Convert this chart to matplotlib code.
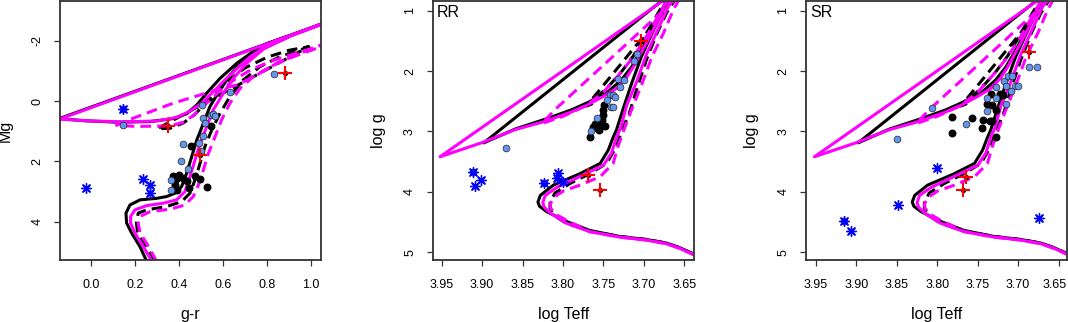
import numpy as np
import matplotlib
matplotlib.use("Agg")
import matplotlib.pyplot as plt
import matplotlib.transforms as mtransforms

plt.rcParams['font.family'] = ['Liberation Sans', 'DejaVu Sans']
plt.rcParams['axes.unicode_minus'] = False

# ---- isochrones, colour-magnitude plane (g-r, Mg) ----
cmd_bs_x = [0.252, 0.222, 0.184, 0.161, 0.158, 0.176, 0.222, 0.297, 0.343, 0.381, 0.411, 0.434, 0.457, 0.480,
            0.510, 0.540, 0.586, 0.631, 0.692, 0.768, 0.90, 1.15,
            -0.145, -0.036, 0.115, 0.267, 0.373, 0.434, 0.480, 0.525, 0.586, 0.662, 0.737, 0.80, 0.90]
cmd_bs_y = [5.30, 4.82, 4.37, 4.04, 3.71, 3.44, 3.27, 3.22, 3.16, 3.05, 2.83, 2.39, 1.84, 1.29,
            0.74, 0.18, -0.37, -0.86, -1.36, -1.78, -2.15, -2.82,
            0.58, 0.65, 0.70, 0.68, 0.58, 0.42, 0.13, -0.26, -0.75, -1.25, -1.64, -1.90, -2.15]

cmd_ms_x = [0.275, 0.237, 0.199, 0.179, 0.179, 0.199, 0.252, 0.328, 0.388, 0.426, 0.449, 0.472, 0.495, 0.525,
            0.555, 0.601, 0.646, 0.707, 0.783, 0.90, 1.15,
            -0.145, 0.0, 0.15, 0.30, 0.39, 0.45, 0.50, 0.55, 0.60, 0.66, 0.72, 0.78, 0.90]
cmd_ms_y = [5.30, 4.82, 4.37, 4.04, 3.82, 3.60, 3.46, 3.38, 3.27, 3.00, 2.50, 1.95, 1.40, 0.85,
            0.29, -0.26, -0.75, -1.25, -1.72, -2.13, -2.82,
            0.60, 0.66, 0.69, 0.66, 0.54, 0.33, 0.08, -0.27, -0.64, -1.06, -1.45, -1.75, -2.13]

cmd_bd_x = [0.290, 0.262, 0.230, 0.210, 0.205, 0.214, 0.252, 0.343, 0.411, 0.449, 0.472, 0.495, 0.517, 0.548,
            0.586, 0.631, 0.692, 0.768, 0.859, 0.950, 0.99,
            0.30, 0.36, 0.42, 0.47, 0.52, 0.57, 0.63, 0.70, 0.80, 0.90, 0.99]
cmd_bd_y = [5.30, 4.95, 4.60, 4.30, 4.00, 3.71, 3.60, 3.49, 3.33, 3.05, 2.61, 2.06, 1.51, 0.96,
            0.40, -0.15, -0.70, -1.14, -1.47, -1.69, -1.80,
            0.92, 0.90, 0.72, 0.45, 0.08, -0.30, -0.72, -1.10, -1.45, -1.68, -1.80]

cmd_md_x = [0.297, 0.252, 0.222, 0.214, 0.222, 0.267, 0.358, 0.426, 0.464, 0.487, 0.510, 0.533, 0.563, 0.593,
            0.631, 0.677, 0.737, 0.829, 0.920, 1.046, 1.10,
            1.046, 0.950, 0.844, 0.753, 0.662, 0.571, 0.373, 0.19, 0.115,
            0.20, 0.30, 0.36, 0.42, 0.47, 0.52, 0.58, 0.65, 0.73, 0.83, 0.95, 1.046]
cmd_md_y = [5.30, 4.71, 4.37, 4.04, 3.82, 3.66, 3.58, 3.44, 3.16, 2.78, 2.28, 1.73, 1.18, 0.62,
            0.07, -0.42, -0.81, -1.19, -1.47, -1.80, -1.95,
            -1.86, -1.58, -1.25, -0.86, -0.53, -0.37, 0.07, 0.57, 0.80,
            0.84, 0.83, 0.82, 0.70, 0.45, 0.10, -0.30, -0.70, -1.05, -1.35, -1.62, -1.83]

# ---- isochrones, Kiel plane (log Teff, log g) ----
hr_bs_t = [3.637, 3.655, 3.672, 3.697, 3.730, 3.767, 3.796, 3.820, 3.829, 3.831, 3.828, 3.812, 3.779, 3.754,
           3.744, 3.738, 3.734, 3.725, 3.715, 3.703, 3.690, 3.678, 3.666,
           3.898, 3.859, 3.818, 3.789, 3.769, 3.744, 3.728, 3.715, 3.703, 3.690, 3.678, 3.668]
hr_bs_g = [5.04, 4.93, 4.85, 4.79, 4.74, 4.64, 4.49, 4.33, 4.24, 4.17, 4.06, 3.89, 3.70, 3.53,
           3.31, 3.10, 2.98, 2.60, 2.20, 1.76, 1.38, 1.04, 0.71,
           3.19, 2.96, 2.78, 2.64, 2.52, 2.34, 2.15, 1.93, 1.65, 1.32, 0.99, 0.75]

hr_ms_t = [3.637, 3.655, 3.672, 3.697, 3.730, 3.767, 3.796, 3.815, 3.823, 3.825, 3.822, 3.808, 3.775, 3.750,
           3.740, 3.734, 3.729, 3.721, 3.709, 3.697, 3.684, 3.672, 3.664,
           3.952, 3.901, 3.859, 3.824, 3.790, 3.771, 3.750, 3.734, 3.722, 3.713, 3.697, 3.680, 3.670]
hr_ms_g = [5.05, 4.94, 4.86, 4.80, 4.75, 4.66, 4.52, 4.36, 4.26, 4.18, 4.06, 3.93, 3.72, 3.56,
           3.36, 3.10, 2.95, 2.56, 2.18, 1.73, 1.35, 1.00, 0.72,
           3.42, 3.19, 2.97, 2.84, 2.68, 2.57, 2.42, 2.29, 2.12, 1.93, 1.54, 1.10, 0.78]

hr_bd_t = [3.637, 3.655, 3.672, 3.697, 3.730, 3.767, 3.796, 3.810, 3.816, 3.816, 3.810, 3.791, 3.767, 3.746,
           3.734, 3.727, 3.718, 3.709, 3.697, 3.684, 3.672, 3.656,
           3.771, 3.765, 3.755, 3.740, 3.727, 3.713, 3.699, 3.685, 3.672]
hr_bd_g = [5.04, 4.93, 4.85, 4.79, 4.74, 4.65, 4.52, 4.40, 4.28, 4.18, 4.02, 3.86, 3.70, 3.53,
           3.25, 2.98, 2.70, 2.31, 1.82, 1.38, 1.04, 0.70,
           2.58, 2.55, 2.40, 2.20, 2.00, 1.75, 1.43, 1.10, 0.80]

hr_md_t = [3.637, 3.655, 3.672, 3.697, 3.730, 3.767, 3.796, 3.808, 3.815, 3.816, 3.812, 3.800, 3.779, 3.754,
           3.738, 3.732, 3.724, 3.714, 3.702, 3.690, 3.676, 3.664, 3.652,
           3.810, 3.826, 3.800, 3.771, 3.750, 3.730, 3.715, 3.700, 3.685, 3.670]
hr_md_g = [5.05, 4.94, 4.86, 4.80, 4.75, 4.66, 4.47, 4.38, 4.28, 4.21, 4.10, 3.99, 3.89, 3.75,
           3.53, 3.25, 2.95, 2.60, 2.20, 1.76, 1.38, 1.00, 0.70,
           2.64, 2.87, 2.75, 2.57, 2.35, 2.05, 1.80, 1.50, 1.15, 0.80]

# ---- stars, panel 1 ----
p1_blue_x = [0.146, 0.146, 0.505, 0.507, 0.518, 0.543, 0.552, 0.562, 0.510, 0.489, 0.419, 0.498, 0.407,
             0.439, 0.364, 0.361, 0.631, 0.833]
p1_blue_y = [0.27, 0.80, 0.13, 0.55, 0.74, 0.46, 0.44, 0.48, 1.16, 1.40, 1.43, 1.64, 1.97,
             2.24, 2.62, 2.94, -0.31, -0.90]
p1_black_x = [0.452, 0.545, 0.373, 0.401, 0.384, 0.419, 0.434, 0.472, 0.495, 0.446, 0.525, 0.381, 0.389, 0.392]
p1_black_y = [1.49, 0.81, 2.48, 2.46, 2.59, 2.56, 2.64, 2.47, 2.57, 2.89, 2.83, 2.78, 2.94, 2.55]
p1_star_x = [0.146, -0.024, 0.237, 0.267, 0.267]
p1_star_y = [0.27, 2.89, 2.59, 2.78, 3.03]
p1_red_x = [0.350, 0.495, 0.882]
p1_red_y = [0.82, 1.78, -0.94]

# ---- stars, panel 2 (RR) ----
p2_blue_t = [3.871, 3.708, 3.712, 3.732, 3.725, 3.729, 3.742, 3.738, 3.736, 3.745, 3.741, 3.738, 3.758, 3.765,
             3.911, 3.824]
p2_blue_g = [3.27, 1.72, 1.83, 2.14, 2.15, 2.27, 2.39, 2.40, 2.43, 2.48, 2.60, 2.59, 2.78, 2.99,
             3.67, 3.86]
p2_black_t = [3.767, 3.760, 3.754, 3.748, 3.758, 3.756, 3.752, 3.750, 3.751, 3.749, 3.756, 3.763]
p2_black_g = [3.09, 2.87, 2.90, 2.91, 2.95, 2.98, 2.81, 2.73, 2.65, 2.56, 2.84, 2.92]
p2_star_t = [3.911, 3.901, 3.909, 3.824, 3.806, 3.808, 3.800]
p2_star_g = [3.67, 3.80, 3.91, 3.86, 3.69, 3.78, 3.83]
p2_red_t = [3.704, 3.769, 3.754]
p2_red_g = [1.50, 3.73, 3.97]

# ---- stars, panel 3 (SR) ----
p3_blue_t = [3.806, 3.850, 3.765, 3.738, 3.738, 3.727, 3.727, 3.717, 3.715, 3.712, 3.708, 3.704, 3.700,
             3.709, 3.715, 3.687, 3.677, 3.916]
p3_blue_g = [2.62, 3.12, 2.87, 2.44, 2.66, 2.44, 2.27, 2.16, 2.24, 2.09, 2.09, 2.25, 2.25,
             2.33, 2.55, 1.94, 1.94, 4.48]
p3_black_t = [3.782, 3.782, 3.757, 3.744, 3.735, 3.732, 3.739, 3.732, 3.728, 3.745, 3.727, 3.733, 3.723, 3.719]
p3_black_g = [2.76, 3.03, 2.77, 2.81, 2.82, 2.82, 2.55, 2.56, 2.65, 2.95, 3.09, 2.38, 2.38, 2.39]
p3_star_t = [3.916, 3.907, 3.849, 3.800, 3.674]
p3_star_g = [4.48, 4.65, 4.22, 3.60, 4.44]
p3_red_t = [3.687, 3.764, 3.768]
p3_red_g = [1.69, 3.75, 3.97]

W, H = 1068, 322
fig = plt.figure(figsize=(W / 100, H / 100), dpi=100)

def make_axes(left, right):
    ax = fig.add_axes([left / W, 62 / H, (right - left) / W, 259 / H])
    for s in ax.spines.values():
        s.set_linewidth(1.3)
        s.set_color('#333333')
    ax.tick_params(direction='out', length=4.5, width=0.9, color='#333333', labelsize=9)
    ax.tick_params(axis='x', pad=9.5)
    ax.tick_params(axis='y', pad=7.5, labelrotation=90)
    return ax

def draw_iso(ax, curves):
    for x, y, c, ls in curves:
        line, = ax.plot(x, y, color=c, lw=2.2, solid_capstyle='butt')
        if ls == '--':
            line.set_dashes((3.5, 2.0))

def draw_stars(ax, bx, by, kx, ky, sx, sy, rx, ry):
    ax.scatter(kx, ky, s=22, color='black', zorder=3)
    ax.scatter(bx, by, s=24, color='#6495ED', edgecolors='#222222', linewidths=0.5, zorder=4)
    ax.scatter(sx, sy, s=50, marker=(8, 2, 0), color='#0000FF', linewidths=1.0, zorder=5)
    ax.scatter(rx, ry, s=8, color='black', zorder=5)
    ax.scatter(rx, ry, s=100, marker='+', color='#FF0000', linewidths=1.5, zorder=6)

def finish(ax):
    for lab in ax.get_yticklabels():
        lab.set_va('center')
    ax.yaxis.set_label_coords(-0.18, 0.5)
    ax.xaxis.set_label_coords(0.5, -0.18)
    ax.xaxis.label.set_va('top')

# panel 1
ax1 = make_axes(60, 321)
draw_iso(ax1, [(cmd_bs_x, cmd_bs_y, 'black', '-'), (cmd_bd_x, cmd_bd_y, 'black', '--'),
               (cmd_ms_x, cmd_ms_y, '#FF00FF', '-'), (cmd_md_x, cmd_md_y, '#FF00FF', '--')])
draw_stars(ax1, p1_blue_x, p1_blue_y, p1_black_x, p1_black_y, p1_star_x, p1_star_y, p1_red_x, p1_red_y)
ax1.set_xlim(-0.142, 1.045)
ax1.set_ylim(5.26, -3.31)
ax1.set_xticks([0.0, 0.2, 0.4, 0.6, 0.8, 1.0])
ax1.set_xticklabels(['0.0', '0.2', '0.4', '0.6', '0.8', '1.0'])
ax1.set_yticks([-2, 0, 2, 4])
ax1.set_xlabel('g-r', fontsize=11.5)
ax1.set_ylabel('Mg', fontsize=11.5)
finish(ax1)

hr_curves = [(hr_bs_t, hr_bs_g, 'black', '-'), (hr_bd_t, hr_bd_g, 'black', '--'),
             (hr_ms_t, hr_ms_g, '#FF00FF', '-'), (hr_md_t, hr_md_g, '#FF00FF', '--')]
t_ticks = [3.95, 3.90, 3.85, 3.80, 3.75, 3.70, 3.65]

panels = [(432.7, 694, 3.9611, 3.638, 'RR',
           (p2_blue_t, p2_blue_g, p2_black_t, p2_black_g, p2_star_t, p2_star_g, p2_red_t, p2_red_g)),
          (806, 1066.7, 3.9624, 3.640, 'SR',
           (p3_blue_t, p3_blue_g, p3_black_t, p3_black_g, p3_star_t, p3_star_g, p3_red_t, p3_red_g))]
for left, right, x0, x1, name, pts in panels:
    ax = make_axes(left, right)
    draw_iso(ax, hr_curves)
    draw_stars(ax, *pts)
    ax.set_xlim(x0, x1)
    ax.set_ylim(5.13, 0.84)
    ax.set_xticks(t_ticks)
    ax.set_xticklabels(['%.2f' % t for t in t_ticks])
    ax.set_yticks([1, 2, 3, 4, 5])
    ax.set_xlabel('log Teff', fontsize=11.5)
    ax.set_ylabel('log g', fontsize=11.5)
    ax.text(0.015, 0.985, name, transform=ax.transAxes, fontsize=11.5, ha='left', va='top')
    finish(ax)
    if name == 'SR':
        # keep the last tick label inside the figure edge
        last = ax.get_xticklabels()[-1]
        last.set_transform(last.get_transform() +
                           mtransforms.ScaledTranslation(-4 / 100, 0, fig.dpi_scale_trans))

fig.savefig('out.png', dpi=100)
